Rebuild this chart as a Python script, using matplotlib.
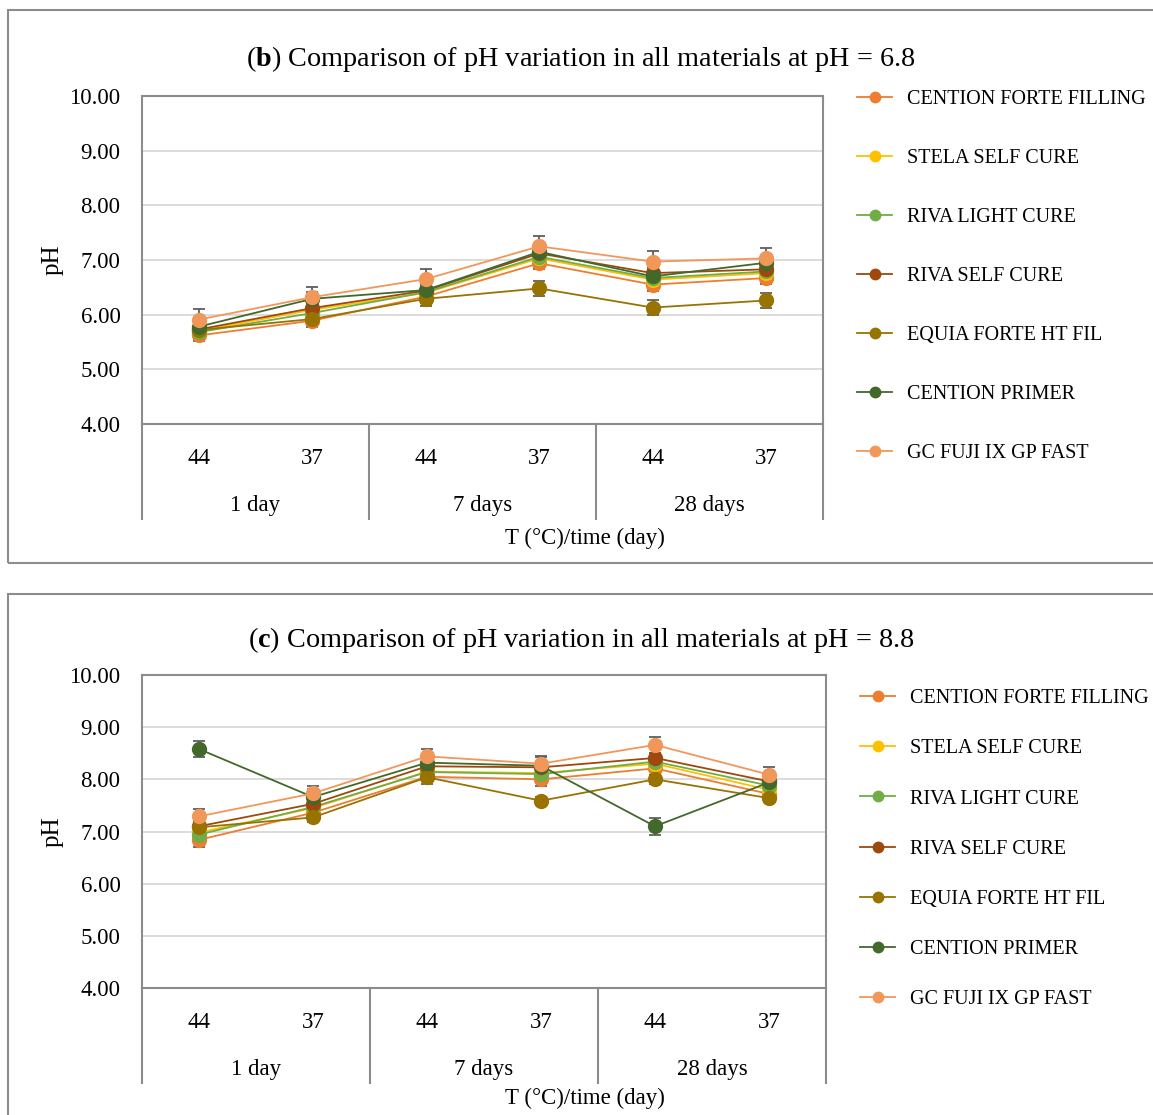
import numpy as np
import matplotlib
matplotlib.use("Agg")
import matplotlib.pyplot as plt
from matplotlib.patches import Rectangle

plt.rcParams['font.family'] = ['Liberation Serif', 'DejaVu Serif']
plt.rcParams['mathtext.fontset'] = 'custom'
plt.rcParams['mathtext.rm'] = 'Liberation Serif'
plt.rcParams['mathtext.bf'] = 'Liberation Serif:bold'

temps = ["44", "37", "44", "37", "44", "37"]
groups = ["1 day", "7 days", "28 days"]
materials = ["CENTION FORTE FILLING", "STELA SELF CURE", "RIVA LIGHT CURE",
             "RIVA SELF CURE", "EQUIA FORTE HT FIL", "CENTION PRIMER",
             "GC FUJI IX GP FAST"]
colors = ["#ED7D31", "#FFC000", "#70AD47", "#9E480E", "#997300", "#43682B", "#F1975A"]

# panel (b), pH = 6.8
ph68 = [
    [5.62, 5.89, 6.33, 6.94, 6.55, 6.67],
    [5.70, 6.09, 6.40, 7.03, 6.64, 6.76],
    [5.68, 6.03, 6.41, 7.06, 6.67, 6.79],
    [5.73, 6.12, 6.44, 7.12, 6.76, 6.83],
    [5.72, 5.92, 6.29, 6.48, 6.13, 6.26],
    [5.78, 6.29, 6.45, 7.15, 6.70, 6.95],
    [5.91, 6.32, 6.65, 7.25, 6.97, 7.03],
]
err68 = [0.11, 0.10, 0.10, 0.10, 0.13, 0.12, 0.19]

# panel (c), pH = 8.8
ph88 = [
    [6.84, 7.36, 8.05, 8.00, 8.21, 7.72],
    [6.98, 7.45, 8.15, 8.12, 8.30, 7.80],
    [6.94, 7.47, 8.14, 8.10, 8.34, 7.88],
    [7.10, 7.53, 8.25, 8.23, 8.41, 7.96],
    [7.08, 7.27, 8.04, 7.59, 8.00, 7.64],
    [8.58, 7.66, 8.32, 8.26, 7.10, 7.94],
    [7.29, 7.73, 8.44, 8.30, 8.66, 8.09],
]
err88 = [0.13, 0.10, 0.10, 0.10, 0.08, 0.16, 0.15]

W, H = 1153, 1115
fig = plt.figure(figsize=(W / 100, H / 100), dpi=100)
FS = 16.5

# panel frames
for y0, y1 in [(10, 563), (594, 1125)]:
    fig.patches.append(Rectangle((8 / W, 1 - y1 / H), 1.2, (y1 - y0) / H,
                                 transform=fig.transFigure, fill=False,
                                 edgecolor="#8c8c8c", lw=1.5))


def draw(rect, data, errs, letter, ph, title_y, leg_top, leg_space, tick_y, grp_y, lab_y):
    left, top, right, bottom = rect
    ax = fig.add_axes([left / W, 1 - bottom / H, (right - left) / W, (bottom - top) / H])
    x = np.arange(len(temps))
    for vals, e, c, name in zip(data, errs, colors, materials):
        ax.errorbar(x, vals, yerr=e, fmt='none', ecolor="#5f5f5f", elinewidth=1.3,
                    capsize=4, capthick=1.3, zorder=2)
        ax.plot(x, vals, '-o', color=c, lw=1.3, ms=10, label=name, zorder=3)
    ax.set_xlim(-0.5, len(temps) - 0.5)
    ax.set_ylim(4, 10)
    ax.set_yticks(np.arange(4, 10.01, 1))
    ax.set_yticklabels([f"{v:.2f}" for v in np.arange(4, 10.01, 1)], fontsize=FS)
    ax.yaxis.grid(True, color="#d9d9d9", lw=1.3)
    ax.set_axisbelow(True)
    ax.tick_params(axis='y', length=0, pad=15.5)
    ax.set_xticks([])
    for s in ax.spines.values():
        s.set_color("#8c8c8c")
        s.set_linewidth(1.5)
    ax.set_ylabel("pH", fontsize=18, labelpad=4)

    h = bottom - top
    trans = ax.get_xaxis_transform()
    for i, t in enumerate(temps):
        ax.text(i, -(tick_y - bottom) / h, t, transform=trans, ha='center', va='center', fontsize=FS)
    n = len(temps) // len(groups)
    for g, name in enumerate(groups):
        ax.text(g * n + (n - 1) / 2, -(grp_y - bottom) / h, name, transform=trans,
                ha='center', va='center', fontsize=FS)
    for k in range(len(groups) + 1):
        ax.plot([k * n - 0.5] * 2, [0, -(grp_y + 14 - bottom) / h], transform=trans,
                color="#8c8c8c", lw=1.5, clip_on=False)
    fig.text(585 / W, 1 - lab_y / H, "T (°C)/time (day)", ha='center', va='center', fontsize=FS)
    fig.text(581 / W, 1 - title_y / H,
             "(" + r"$\mathbf{" + letter + "}$" + ") Comparison of pH variation in all materials at pH = " + ph,
             ha='center', va='center', fontsize=20.3)
    ax.legend(loc='upper left', bbox_to_anchor=((right + 34) / W, 1 - leg_top / H),
              bbox_transform=fig.transFigure, frameon=False, fontsize=14.5,
              handlelength=1.75, handletextpad=0.75, labelspacing=leg_space,
              borderpad=0, borderaxespad=0, markerscale=0.75)


draw((142, 96, 823, 424), ph68, err68, "b", "6.8", 59, 90, 1.98, 458, 505, 538)
draw((142, 675, 826, 988), ph88, err88, "c", "8.8", 640, 689, 1.545, 1023, 1069, 1098)

fig.savefig("out.png", dpi=100)
